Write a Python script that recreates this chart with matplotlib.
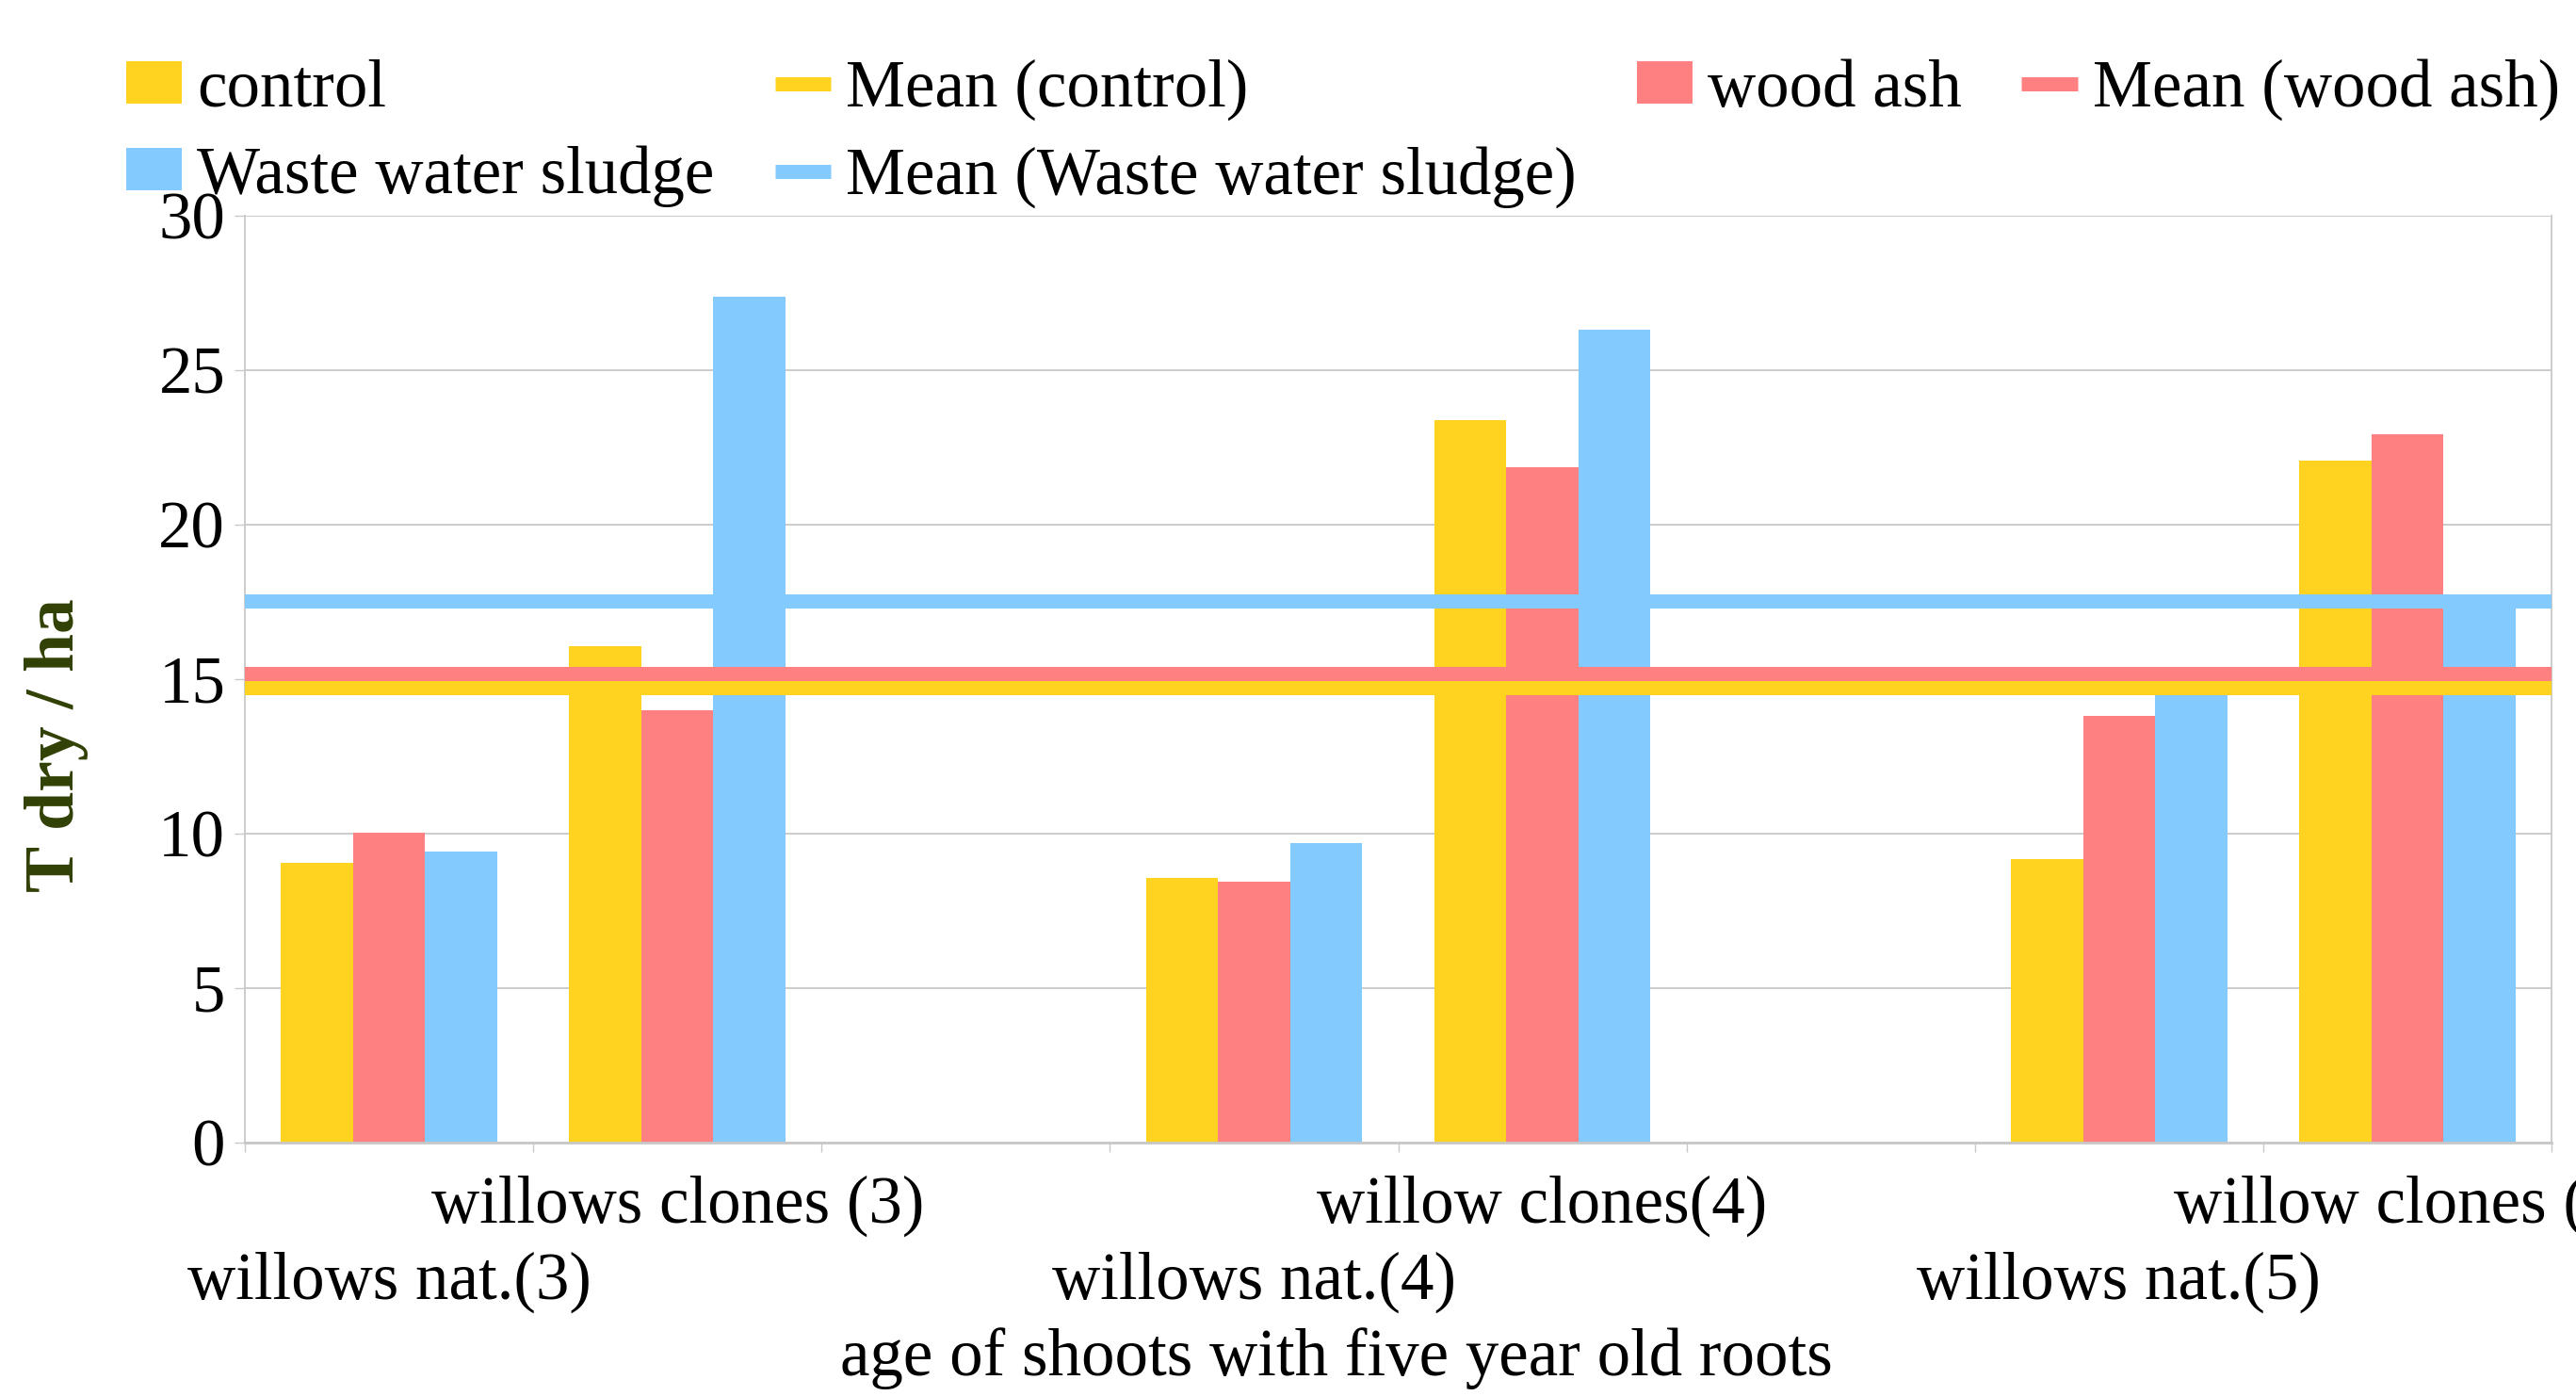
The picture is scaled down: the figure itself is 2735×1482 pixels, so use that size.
import numpy as np
import matplotlib
matplotlib.use("Agg")
import matplotlib.pyplot as plt
from matplotlib.patches import Patch
from matplotlib.lines import Line2D

# ---------------- data ----------------
categories = ["willows nat.(3)", "willows clones (3)", "", "willows nat.(4)",
              "willow clones(4)", "", "willows nat.(5)", "willow clones (5)"]
control = [9.06, 16.08, np.nan, 8.57, 23.37, np.nan, 9.18, 22.08]
wood_ash = [10.02, 14.0, np.nan, 8.43, 21.86, np.nan, 13.82, 22.94]
sludge = [9.41, 27.39, np.nan, 9.71, 26.31, np.nan, 14.9, 17.5]
series_names = ["control", "wood ash", "Waste water sludge"]
y_ticks = [0, 5, 10, 15, 20, 25, 30]
x_title = "age of shoots with five year old roots"
y_title = "T dry / ha"

# ---------------- style ----------------
colors = ["#FFD320", "#FF8080", "#83CAFF"]
FS = 51
plt.rcParams['font.family'] = ['Liberation Serif', 'DejaVu Serif']
plt.rcParams['font.size'] = FS
GRID = "#c8c8c8"

fig = plt.figure(figsize=(27.35, 14.82), dpi=100)
ax = fig.add_axes([260 / 2735, 1 - 1213 / 1482, 2449 / 2735, 984 / 1482])

x = np.arange(len(categories))
width = 0.25
all_series = [control, wood_ash, sludge]
for i, (vals, c) in enumerate(zip(all_series, colors)):
    ax.bar(x + (i - 1) * width, vals, width=width, color=c, zorder=2, linewidth=0)

means = [np.nanmean(v) for v in all_series]
# mean lines (sludge first, then wood ash, then control on top)
for i in [2, 1, 0]:
    ax.axhline(means[i], color=colors[i], lw=10.8, zorder=3 + (2 - i))

ax.set_xlim(-0.5, len(categories) - 0.5)
ax.set_ylim(0, 30)
ax.set_yticks(y_ticks)
ax.yaxis.grid(True, color=GRID, lw=1.3, zorder=0)
ax.set_axisbelow(True)

# x ticks: boundaries as major ticks, labels on minor ticks
ax.set_xticks(np.arange(-0.5, len(categories), 1.0))
ax.set_xticklabels([])
ax.set_xticks(x, minor=True)
lower_row = {0, 3, 6}
labels = [("\n" + c if i in lower_row else c) for i, c in enumerate(categories)]
ax.set_xticklabels(labels, minor=True)
ax.tick_params(axis='x', which='major', length=7.5, width=1.0, color=GRID, direction='out')
ax.tick_params(axis='x', which='minor', length=0, pad=25)
for lab in ax.get_xticklabels(minor=True):
    lab.set_linespacing(1.32)
ax.tick_params(axis='y', length=8, width=1.0, color=GRID, pad=7, labelsize=FS)

for s in ["left", "right", "bottom"]:
    ax.spines[s].set_color(GRID)
    ax.spines[s].set_linewidth(1.3)
ax.spines["bottom"].set_linewidth(2)
ax.spines["top"].set_visible(False)

ax.set_xlabel(x_title, fontsize=FS, va='top')
ax.xaxis.set_label_coords(0.473, -0.199)
ax.set_ylabel(y_title, fontsize=53, fontweight='bold', color="#314004", va='center')
ax.yaxis.set_label_coords(-0.0817, 0.429)

# legend
h_ctrl = Patch(facecolor=colors[0], edgecolor='none')
h_ash = Patch(facecolor=colors[1], edgecolor='none')
h_sl = Patch(facecolor=colors[2], edgecolor='none')
l_ctrl = Line2D([], [], color=colors[0], lw=10.8, solid_capstyle='butt')
l_ash = Line2D([], [], color=colors[1], lw=10.8, solid_capstyle='butt')
l_sl = Line2D([], [], color=colors[2], lw=10.8, solid_capstyle='butt')
handles = [h_ctrl, h_sl, l_ctrl, l_sl, h_ash, l_ash]
texts = [series_names[0], series_names[2], "Mean (" + series_names[0] + ")",
         "Mean (" + series_names[2] + ")", series_names[1], "Mean (" + series_names[1] + ")"]
fig.legend(handles, texts, loc='upper left', bbox_to_anchor=(134 / 2735, 1 - 62 / 1482),
           ncol=4, frameon=False, fontsize=FS, borderpad=0, borderaxespad=0,
           handlelength=0.835, handleheight=0.6, handletextpad=0.23,
           columnspacing=0.9, labelspacing=0.38)

fig.savefig("out.png", dpi=100)
